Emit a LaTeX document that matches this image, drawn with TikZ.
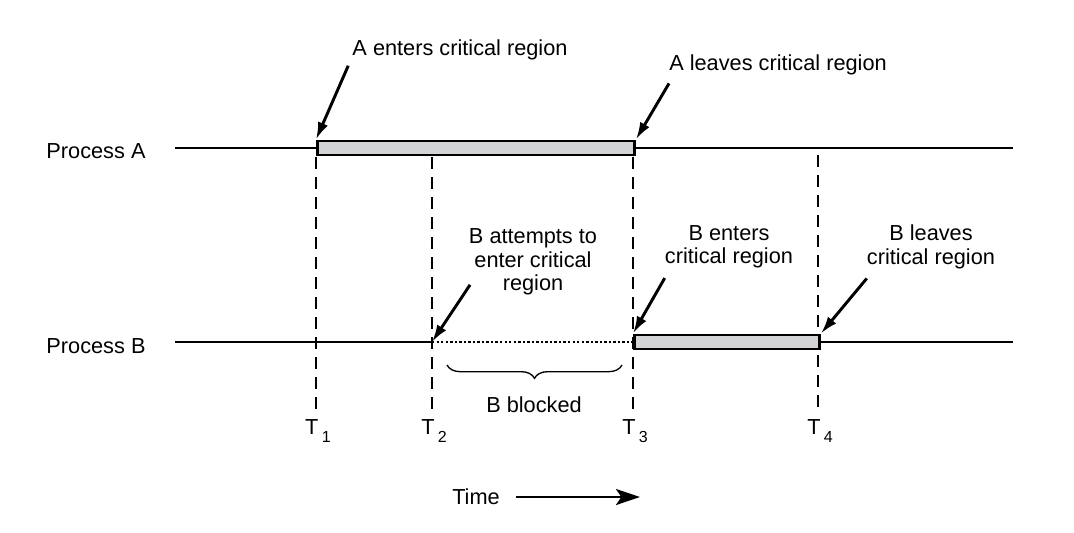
\documentclass[tikz,border=0pt]{standalone}
\usepackage{fontspec}
\setmainfont{Liberation Sans}
\usepackage{tikz}
\usetikzlibrary{positioning,arrows.meta,decorations.pathreplacing}
\definecolor{critgray}{RGB}{211,212,214}
\newcommand{\instant}[1]{T\hspace{2.5pt}\raisebox{-6pt}{\fontsize{12}{12}\selectfont #1}}

\begin{document}
\begin{tikzpicture}[x=0.75pt, y=-0.75pt, font=\fontsize{16.3}{17.6}\selectfont,
  timeline/.style={line width=1.7pt},
  critbox/.style={draw, line width=2.2pt, fill=critgray, inner sep=0pt, minimum height=10.5pt, anchor=west},
  marker/.style={dash pattern=on 9pt off 6pt, line width=1.6pt},
  ptr/.style={-{Latex[length=13pt,width=8pt]}, line width=2.2pt},
  lbl/.style={align=center, inner sep=2pt}]

  \useasboundingbox (0,0) rectangle (1074,532);

  % Time instants on the line of process A
  \coordinate (T1) at (316,148);
  \coordinate (T2) at (432,148);
  \coordinate (T3) at (633,148);
  \coordinate (T4) at (818,148);
  \coordinate (blockStart) at (432,342);

  % Dashed markers for the instants
  \draw[marker] (316,157) -- (316,412);
  \draw[marker] (432,157) -- (432,412);
  \draw[marker] (633,157) -- (633,412);
  \draw[marker] (818,155) -- (818,412);

  % Process lines
  \node (procA) at (96,151) {Process A};
  \node (procB) at (96,346) {Process B};
  \draw[timeline] (175,148) -- (1013,148);
  \draw[timeline] (175,342) -- (blockStart);
  \draw[line width=1.7pt, dash pattern=on 1.8pt off 1.6pt] (blockStart) -- (633,342);
  \draw[timeline] (818,342) -- (1013,342);

  % Critical regions
  \node[critbox, minimum width=237.75pt] (critA) at (316,148) {};
  \node[critbox, minimum width=138.75pt] (critB) at (633,342) {};

  % Labels of the events
  \node[lbl] (aEnter) at (460,50) {A enters critical region};
  \node[lbl] (aLeave) at (778,65) {A leaves critical region};
  \node[lbl] (bTry) at (533,262) {B attempts to\\enter critical\\region};
  \node[lbl] (bEnter) at (729,247) {B enters\\critical region};
  \node[lbl] (bLeave) at (931,247) {B leaves\\critical region};

  \draw[ptr] ([shift={(-1pt,-2pt)}]aEnter.south west) -- (critA.north west);
  \draw[ptr] ([shift={(2pt,-4pt)}]aLeave.south west) -- (critA.north east);
  \draw[ptr] ([shift={(3pt,10pt)}]bTry.south west) -- (blockStart);
  \draw[ptr] ([shift={(2pt,-5pt)}]bEnter.south west) -- (critB.north west);
  \draw[ptr] ([shift={(2pt,-5pt)}]bLeave.south west) -- (critB.north east);

  % Waiting time of B
  \draw[line width=1pt, decorate, decoration={brace, mirror, amplitude=10pt}] (447,365) -- (622,365);
  \node (blocked) at (534,405) {B blocked};

  % Names of the instants
  \node (labT1) at (318,431) {\instant{1}};
  \node (labT2) at (434,431) {\instant{2}};
  \node (labT3) at (635,431) {\instant{3}};
  \node (labT4) at (820,431) {\instant{4}};

  % Time axis
  \node (time) at (476,497) {Time};
  \coordinate (timeEnd) at (640,497);
  \draw[line width=2pt, -{Stealth[length=18pt,width=12pt,inset=4pt]}] ([xshift=9pt]time.east) -- (timeEnd);

\end{tikzpicture}
\end{document}
